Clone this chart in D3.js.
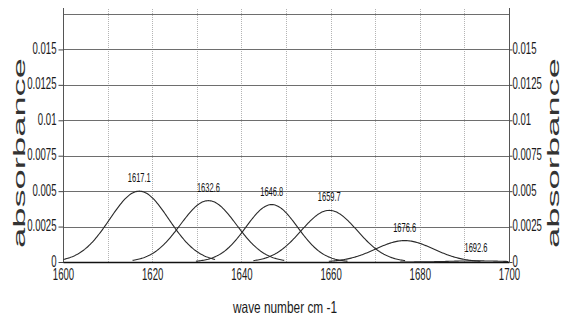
<!DOCTYPE html>
<html>
<head>
<meta charset="utf-8">
<script src="https://cdn.jsdelivr.net/npm/d3@7"></script>
<style>
  html, body { margin: 0; padding: 0; background: #fff; }
  svg { display: block; }
</style>
</head>
<body>
<script>
// Deconvolved amide I bands: position (cm-1), height (absorbance), Gaussian sigma (cm-1)
const bandCenters = [1617.1, 1632.6, 1646.8, 1659.7, 1676.6, 1692.6];
const bandHeights = [0.0050, 0.00433, 0.00405, 0.00364, 0.00151, 0.00008];
const bandSigmas  = [6.6, 6.3, 5.8, 6.3, 6.5, 6.0];
const bandLabels  = ["1617.1", "1632.6", "1646.8", "1659.7", "1676.6", "1692.6"];

const xTickValues = [1600, 1620, 1640, 1660, 1680, 1700];
const xGridValues = [1610, 1620, 1630, 1640, 1650, 1660, 1670, 1680, 1690];
const yTickValues = [0, 0.0025, 0.005, 0.0075, 0.01, 0.0125, 0.015];
const yTickLabels = ["0", "0.0025", "0.005", "0.0075", "0.01", "0.0125", "0.015"];
const xDomain = [1600, 1700];
const yDomain = [0, 0.0175];

const W = 569, H = 331;
const plotL = 63, plotR = 509, plotT = 14, plotB = 262;

const svg = d3.select("body").append("svg")
  .attr("width", W).attr("height", H)
  .style("font-family", "'Liberation Sans', Arial, sans-serif");

const x = d3.scaleLinear().domain(xDomain).range([plotL, plotR]);
const y = d3.scaleLinear().domain(yDomain).range([plotB, plotT]);

// vertical dotted grid
svg.append("g").selectAll("line").data(xGridValues).join("line")
  .attr("x1", d => Math.round(x(d)) + 0.5).attr("x2", d => Math.round(x(d)) + 0.5)
  .attr("y1", plotT - 5).attr("y2", plotB)
  .attr("stroke", "#b4b4b4").attr("stroke-width", 1)
  .attr("stroke-dasharray", "1,1");

// horizontal grid (labelled ticks plus the top of the frame)
svg.append("g").selectAll("line").data(yTickValues.concat([yDomain[1]])).join("line")
  .attr("x1", plotL).attr("x2", plotR)
  .attr("y1", d => Math.round(y(d)) + 0.5).attr("y2", d => Math.round(y(d)) + 0.5)
  .attr("stroke", "#6e6e6e").attr("stroke-width", 1);

// side axis lines
[plotL, plotR].forEach(px => {
  svg.append("line")
    .attr("x1", px + 0.5).attr("x2", px + 0.5)
    .attr("y1", plotT - 6).attr("y2", plotB)
    .attr("stroke", "#555").attr("stroke-width", 1);
});

const tickFont = 16, tickSx = 0.6;
const fmtY = d => yTickLabels[yTickValues.indexOf(d)];

// left axis
const gl = svg.append("g").attr("transform", `translate(${plotL + 0.5},0)`)
  .call(d3.axisLeft(y).tickValues(yTickValues).tickFormat(fmtY).tickSize(5).tickSizeOuter(0));
gl.select(".domain").remove();
gl.selectAll(".tick line").attr("stroke", "#444");
gl.selectAll(".tick text")
  .attr("font-size", tickFont).attr("fill", "#1a1a1a")
  .attr("x", -7 / tickSx).attr("dy", "0.25em")
  .attr("transform", `scale(${tickSx},1)`);

// right axis
const gr = svg.append("g").attr("transform", `translate(${plotR + 0.5},0)`)
  .call(d3.axisRight(y).tickValues(yTickValues).tickFormat(fmtY).tickSize(3).tickSizeOuter(0));
gr.select(".domain").remove();
gr.selectAll(".tick line").attr("stroke", "#444");
gr.selectAll(".tick text")
  .attr("font-size", tickFont).attr("fill", "#1a1a1a")
  .attr("x", 3 / tickSx).attr("dy", "0.25em")
  .attr("transform", `scale(${tickSx},1)`);

// bottom axis
const gb = svg.append("g").attr("transform", `translate(0,${plotB})`)
  .call(d3.axisBottom(x).tickValues(xTickValues).tickFormat(d3.format("d")).tickSize(0).tickSizeOuter(0));
gb.select(".domain").attr("stroke", "#111").attr("stroke-width", 1.4);
gb.selectAll(".tick text")
  .attr("font-size", tickFont).attr("fill", "#1a1a1a")
  .attr("y", 18.5).attr("dy", 0)
  .attr("transform", `scale(${tickSx},1)`);

// Gaussian band curves
const line = d3.line().x(d => x(d[0])).y(d => y(d[1]));
const bands = bandCenters.map((c, i) => {
  const s = bandSigmas[i], h = bandHeights[i];
  const lo = Math.max(xDomain[0], c - 17), hi = Math.min(xDomain[1], c + 17);
  return d3.range(lo, hi + 0.001, 0.25).map(v => [v, h * Math.exp(-((v - c) ** 2) / (2 * s * s))]);
});
svg.append("g").selectAll("path").data(bands).join("path")
  .attr("d", line)
  .attr("fill", "none").attr("stroke", "#2a2a2a").attr("stroke-width", 1.1);

// peak position labels
svg.append("g").selectAll("text").data(bandCenters).join("text")
  .attr("transform", (d, i) => `translate(${x(d)},${y(bandHeights[i]) - 9}) scale(0.6,1)`)
  .attr("text-anchor", "middle")
  .attr("font-size", 12.5).attr("fill", "#111")
  .text((d, i) => bandLabels[i]);

// axis titles
svg.append("text")
  .attr("transform", `translate(285,313)`)
  .attr("text-anchor", "middle")
  .attr("font-size", 16.5).attr("fill", "#1a1a1a")
  .attr("textLength", 104).attr("lengthAdjust", "spacingAndGlyphs")
  .text("wave number cm -1");

[25, 559].forEach(px => {
  svg.append("text")
    .attr("transform", `translate(${px},153) rotate(-90)`)
    .attr("text-anchor", "middle")
    .attr("font-size", 16.5).attr("fill", "#333")
    .attr("textLength", 190).attr("lengthAdjust", "spacingAndGlyphs")
    .text("absorbance");
});
</script>
</body>
</html>
